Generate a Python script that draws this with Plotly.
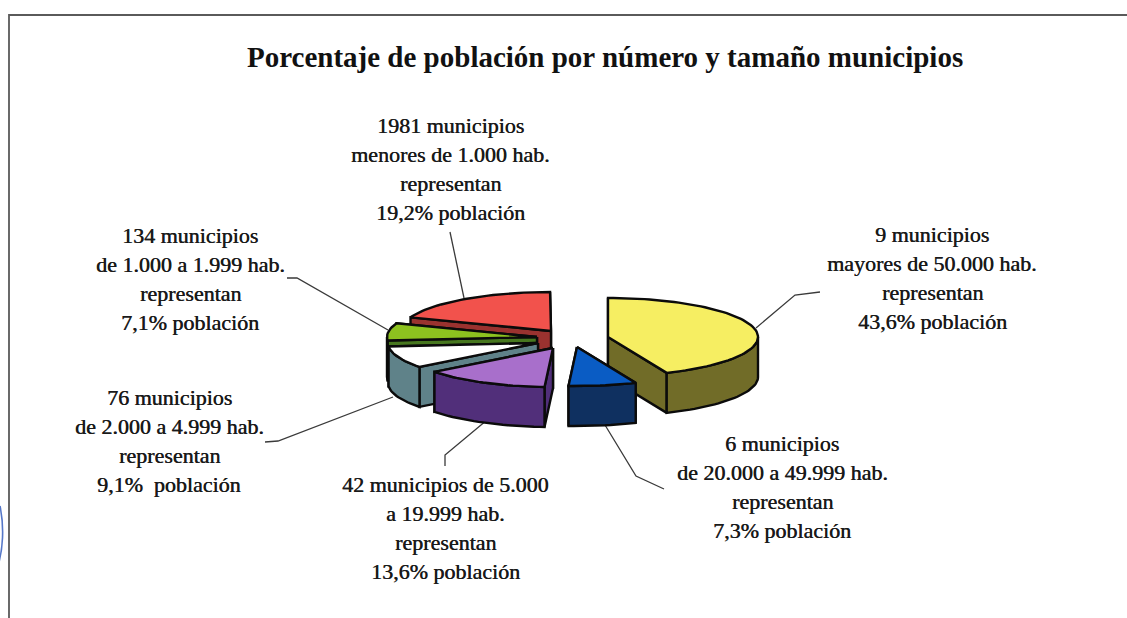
import math
import plotly.graph_objects as go

# ---- data (clockwise from 12 o'clock) ----
names = ["mayores de 50.000", "20.000 a 49.999", "5.000 a 19.999", "2.000 a 4.999", "1.000 a 1.999", "menores de 1.000"]
shares = [43.6, 7.3, 13.6, 9.1, 7.1, 19.2]
title_text = "Porcentaje de población por número y tamaño municipios"
label_lines = [
    ["9 municipios", "mayores de 50.000 hab.", "representan", "43,6% población"],
    ["6 municipios", "de 20.000 a 49.999 hab.", "representan", "7,3% población"],
    ["42 municipios de 5.000", "a 19.999 hab.", "representan", "13,6% población"],
    ["76 municipios", "de 2.000 a 4.999 hab.", "representan", "9,1%  población"],
    ["134 municipios", "de 1.000 a 1.999 hab.", "representan", "7,1% población"],
    ["1981 municipios", "menores de 1.000 hab.", "representan", "19,2% población"],
]

# ---- styling / layout ----
top_colors = ["#F6EE62", "#0A5CC4", "#A86FCB", "#FFFFFF", "#8DC21F", "#F2524C"]
side_colors = ["#716C28", "#0F3060", "#512F7A", "#5F8289", "#47771F", "#9A322F"]
apex = [(608, 337), (577, 347), (553, 348), (538, 343), (537, 337), (551, 331)]
label_pos = [(932, 234), (782, 443), (445, 484), (169, 397), (190, 235), (450, 125)]
LINE_STEP = 29
RX, RY, DEPTH = 150, 39, 40
draw_order = [5, 4, 3, 2, 0, 1]
leaders = [
    [(756, 328), (795, 295), (820, 292)],
    [(605, 425), (636, 476), (664, 489)],
    [(487, 420), (445, 455), (445, 466)],
    [(393, 397), (278, 441), (265, 442)],
    [(388, 330), (297, 278), (287, 278)],
    [(464, 298), (450, 232)],
]


def rim(c, deg, drop=0):
    a = math.radians(deg)
    return (c[0] + RX * math.sin(a), c[1] - RY * math.cos(a) + drop)


def arc(c, a0, a1, drop=0):
    n = max(2, int(abs(a1 - a0) / 2))
    return [rim(c, a0 + (a1 - a0) * i / n, drop) for i in range(n + 1)]


def poly(pts, fill, name):
    xs = [p[0] for p in pts] + [pts[0][0]]
    ys = [p[1] for p in pts] + [pts[0][1]]
    return go.Scatter(x=xs, y=ys, mode="lines", fill="toself", fillcolor=fill, name=name,
                      line=dict(color="#0b0b0b", width=2.4), hoverinfo="name", showlegend=False)


# start / end angles from the shares
starts, ends, acc = [], [], 0.0
for s in shares:
    starts.append(acc * 3.6)
    acc += s
    ends.append(acc * 3.6)

fig = go.Figure()
for i in draw_order:
    c, a0, a1 = apex[i], starts[i], ends[i]
    # radial cut faces, rear one first
    faces = sorted([a0, a1], key=lambda d: rim(c, d)[1])
    for d in faces:
        r = rim(c, d)
        fig.add_trace(poly([c, r, (r[0], r[1] + DEPTH), (c[0], c[1] + DEPTH)], side_colors[i], names[i]))
    # outer wall where it faces the viewer
    w0, w1 = max(a0, 90), min(a1, 270)
    if w1 > w0:
        fig.add_trace(poly(arc(c, w0, w1) + arc(c, w1, w0, DEPTH), side_colors[i], names[i]))
    # top face
    fig.add_trace(poly([c] + arc(c, a0, a1), top_colors[i], names[i]))

annotations = [dict(x=605, y=57, text="<b>%s</b>" % title_text, showarrow=False,
                    xanchor="center", yanchor="middle",
                    font=dict(family="Liberation Serif", size=29, color="#111"))]
for lines, (x, y) in zip(label_lines, label_pos):
    for k, t in enumerate(lines):
        annotations.append(dict(x=x, y=y + k * LINE_STEP, text=t, showarrow=False,
                                xanchor="center", yanchor="middle",
                                font=dict(family="Liberation Serif", size=22, color="#1a1a1a",
                                          shadow="0.4px 0 0 #1a1a1a")))

shapes = []
for pts in leaders:
    path = "M " + " L ".join("%g,%g" % p for p in pts)
    shapes.append(dict(type="path", path=path, line=dict(color="#3a3a3a", width=1.3), layer="below"))
# scanned page frame and pen mark at the left edge
shapes.append(dict(type="path", path="M 9,618 L 9,15 L 1127,15", line=dict(color="#5a5a5a", width=1.8)))
shapes.append(dict(type="path", path="M 0,506 C 4,525 4,550 -4,572", line=dict(color="#5577c8", width=1.6)))

fig.update_layout(
    width=1127, height=618, autosize=False,
    margin=dict(l=0, r=0, t=0, b=0),
    paper_bgcolor="white", plot_bgcolor="white",
    xaxis=dict(range=[0, 1127], visible=False, fixedrange=True),
    yaxis=dict(range=[618, 0], visible=False, fixedrange=True),
    annotations=annotations, shapes=shapes, showlegend=False,
)
fig.write_html("out.html", config={"displayModeBar": False},
               post_script="document.body.style.margin='0';document.body.style.overflow='hidden';")
